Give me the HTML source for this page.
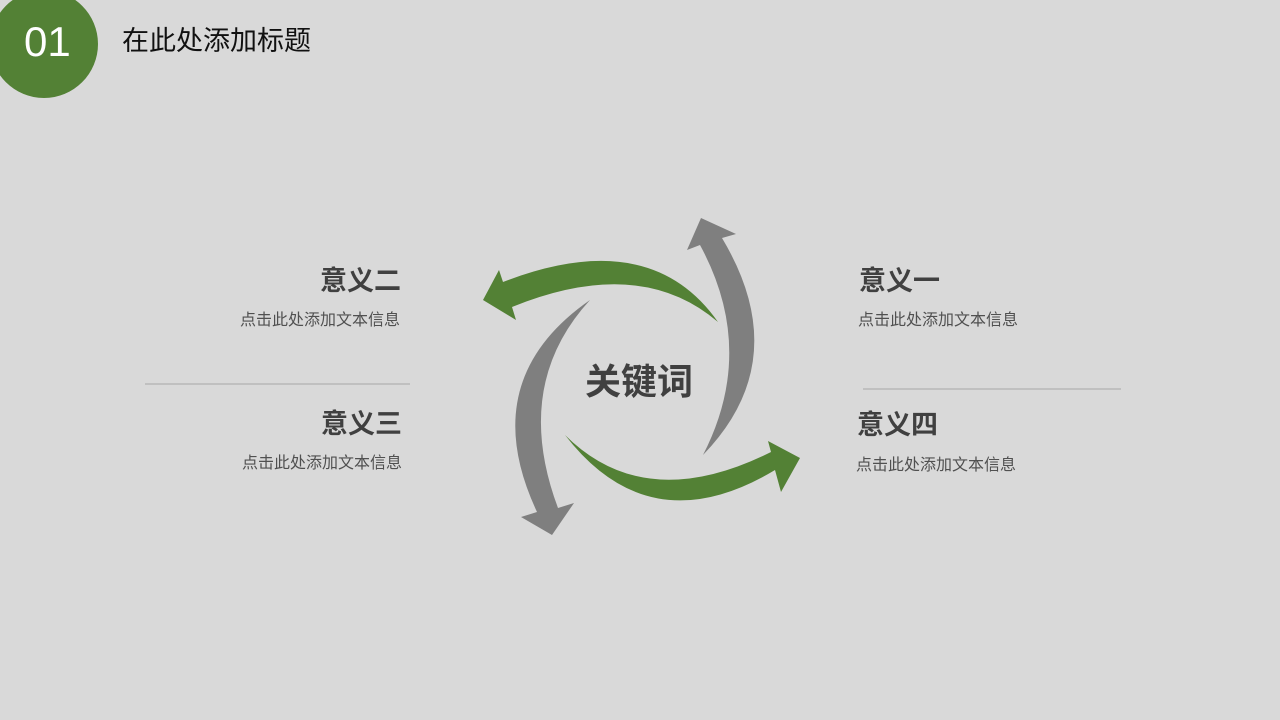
<!DOCTYPE html>
<html><head><meta charset="utf-8"><style>
body{margin:0;width:1280px;height:720px;background:#d9d9d9;position:relative;overflow:hidden;font-family:"Liberation Sans","Noto Sans CJK SC",sans-serif}
.t{position:absolute;white-space:nowrap;color:#404040}
.h{font-size:27px;font-weight:bold;line-height:30px}
.s{font-size:16px;line-height:18px;color:#505050}
.r{text-align:right}
</style></head><body>
<div style="position:absolute;left:-10px;top:-10px;width:108px;height:108px;border-radius:50%;background:#538135"></div>
<div class="t" style="left:24px;top:20px;font-size:42px;line-height:44px;color:#fff">01</div>
<div class="t" style="left:122px;top:25px;font-size:27px;line-height:32px;color:#111">在此处添加标题</div>
<svg width="1280" height="720" style="position:absolute;left:0;top:0">
<line x1="145" y1="384" x2="410" y2="384" stroke="#a6a6a6" stroke-width="1"/>
<line x1="863" y1="389" x2="1121" y2="389" stroke="#a6a6a6" stroke-width="1"/>
<path d="M718,322 Q650,225 503,282 L499,270 L483,300 L516,320 L512,307 Q640,255 718,322 Z" fill="#538135"/>
<path d="M703,455 Q795,360 722,238 L736,234 L701,218 L687,250 L700,245 Q757,350 703,455 Z" fill="#7f7f7f"/>
<path d="M565,435 Q650,545 775,470 L781,492 L800,458 L768,441 L771,452 Q645,515 565,435 Z" fill="#538135"/>
<path d="M590,300 Q475,380 537,512 L521,517 L552,535 L574,503 L558,508 Q512,385 590,300 Z" fill="#7f7f7f"/>
</svg>
<div class="t" style="left:585px;top:362px;font-size:36px;font-weight:bold;line-height:40px">关键词</div>
<div class="t h r" style="right:879px;top:266px">意义二</div>
<div class="t s r" style="right:880px;top:312px">点击此处添加文本信息</div>
<div class="t h r" style="right:878px;top:409px">意义三</div>
<div class="t s r" style="right:878px;top:455px">点击此处添加文本信息</div>
<div class="t h" style="left:859px;top:266px">意义一</div>
<div class="t s" style="left:858px;top:312px">点击此处添加文本信息</div>
<div class="t h" style="left:857px;top:410px">意义四</div>
<div class="t s" style="left:856px;top:457px">点击此处添加文本信息</div>
</body></html>
